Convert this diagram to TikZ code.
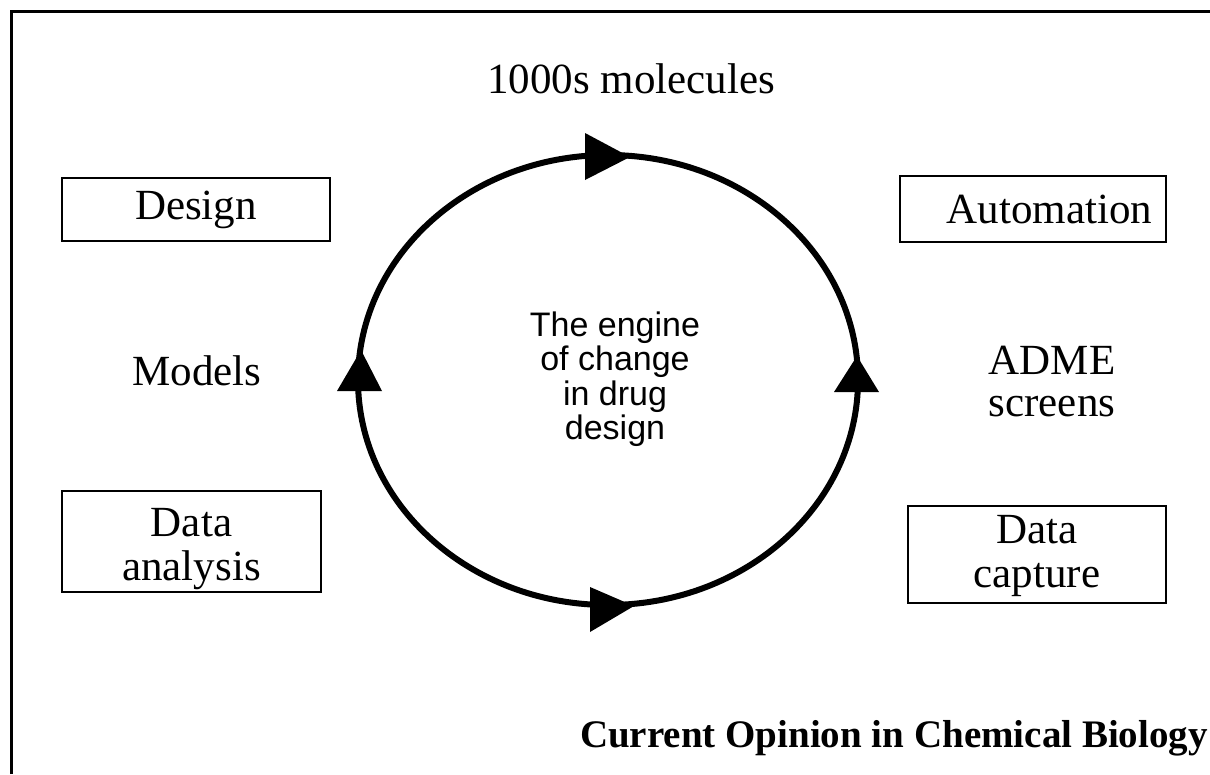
\documentclass[tikz,border=0pt]{standalone}
\usepackage{fontspec}
\setmainfont{Liberation Serif}
\newfontfamily\arialfont{Liberation Sans}
\usetikzlibrary{shapes.geometric}
\begin{document}
\begin{tikzpicture}[x=1pt,y=-1pt,
  box/.style={draw, line width=2.5pt, inner sep=0pt, align=center, font=\fontsize{43}{42}\selectfont},
  lbl/.style={inner sep=0pt, align=center, font=\fontsize{43}{42}\selectfont},
  head/.style={fill=black}]
\useasboundingbox (0,0) rectangle (1210,774);
\fill[white] (0,0) rectangle (1210,774);
\draw[line width=3pt] (11.5,774) -- (11.5,11) -- (1210,11);

\node[box, minimum width=268pt, minimum height=63pt] (design) at (196,209.5) {Design};
\node[box, minimum width=266pt, minimum height=66pt, text width=238pt, align=right] (automation) at (1033,209) {Automation};
\node[box, minimum width=259pt, minimum height=101pt] (analysis) at (191.5,541.5) {\rule{0pt}{43pt}Data\\[2pt]analysis};
\node[box, minimum width=258pt, minimum height=97pt] (capture) at (1037,554.5) {\rule{0pt}{32pt}Data\\[2pt]capture};

\node[lbl, anchor=base] (molecules) at (631,93) {1000s molecules};
\node[lbl, anchor=base] (models) at (197,385) {Models};
\node[lbl] (adme) at (1052,382) {ADME\\screens};

\node[ellipse, draw, line width=6pt, minimum width=500pt, minimum height=450pt, inner sep=0pt] (ring) at (608,380) {};
\node[font=\arialfont\fontsize{34}{34.5}\selectfont, align=center, inner sep=0pt] (engine) at (615,379) {The engine\\of change\\in drug\\design};

\fill[head] (585,133) -- (630,157) -- (585,180) -- cycle;
\fill[head] (590,587) -- (634,606) -- (590,632) -- cycle;
\fill[head] (337,391) -- (361,350) -- (382,391) -- cycle;
\fill[head] (834,392) -- (857,356) -- (879,392) -- cycle;

\node[anchor=base east, inner sep=0pt, font=\bfseries\fontsize{39}{40}\selectfont] (caption) at (1208,747) {Current Opinion in Chemical Biology};
\end{tikzpicture}
\end{document}
